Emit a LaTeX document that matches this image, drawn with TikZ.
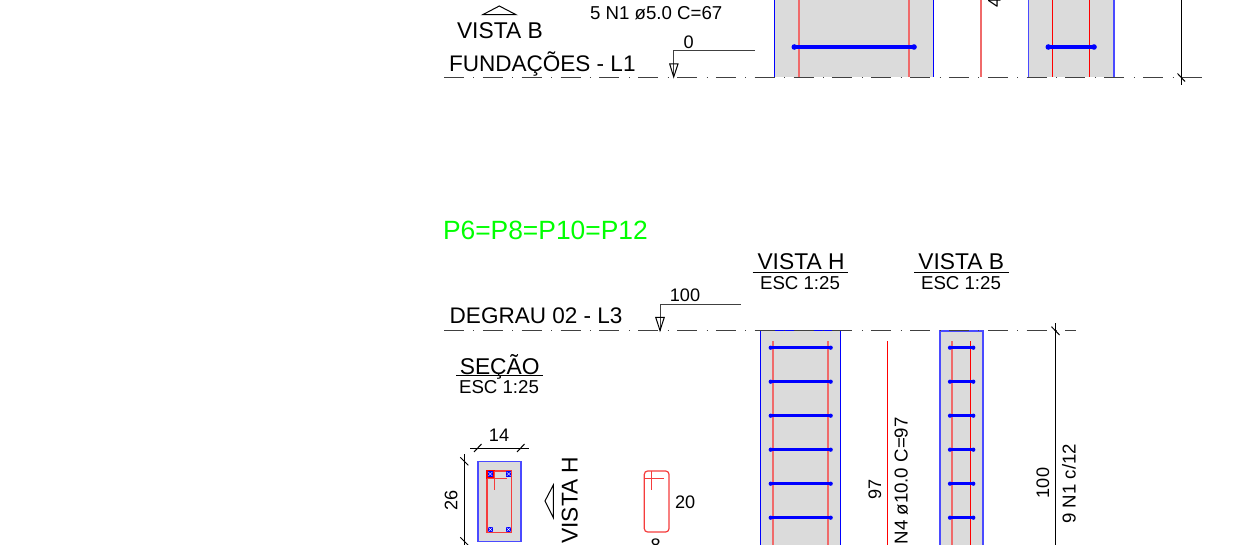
\documentclass[tikz,border=0pt]{standalone}
\usepackage{fontspec}
\setmainfont{Liberation Sans}
\definecolor{cgray}{HTML}{DBDBDB}
\definecolor{cblue}{HTML}{0000FF}
\definecolor{cpaleblue}{HTML}{4A4AFF}
\definecolor{cred}{HTML}{FF0000}
\definecolor{cpalered}{HTML}{F06A6A}
\definecolor{csect}{HTML}{F53C3C}
\definecolor{cgreen}{HTML}{00FF00}
\tikzset{
  txt/.style={inner sep=0pt,outer sep=0pt,text=black},
  big/.style={txt,font=\fontsize{17.1}{20}\selectfont},
  bigtight/.style={txt,font=\fontsize{16.9}{20}\selectfont},
  mid/.style={txt,font=\fontsize{13.6}{16}\selectfont},
  note/.style={txt,font=\fontsize{14}{16}\selectfont},
  ink/.style={draw=black,line width=.75pt},
  level/.style={draw=black!75,line width=.7pt},
  axisline/.style={draw=black!75,line width=.85pt,dash pattern=on 15pt off 7.1pt on .75pt off 6.28pt},
  colwall/.style={draw=cblue,line width=1.05pt},
  colpale/.style={draw=cpaleblue,line width=1.2pt},
  rebar/.style={draw=cpalered,line width=1.25pt},
  rebarthin/.style={draw=cred,line width=.95pt},
  tie/.style={draw=cblue,line width=2.4pt},
  tielow/.style={draw=cblue,line width=2pt},
  tiedot/.style={fill=cblue,draw=none},
  stirrup/.style={draw=csect,line width=.9pt}
}
\begin{document}
\begin{tikzpicture}[x=.75pt,y=-.75pt]
\useasboundingbox (0,0) rectangle (1252,545);
\fill[white] (0,0) rectangle (1252,545);
\begin{scope}
\clip (0,0) rectangle (1252,545);
% ---------- upper part
\fill[cgray] (774.3,-5) rectangle (933.7,77.5);
\draw[colwall] (774.3,-5) -- (774.3,77.5);
\draw[colwall] (933.7,-5) -- (933.7,77.5);
\fill[cgray] (1028.3,-5) rectangle (1114,77.5);
\draw[colpale] (1028.3,-5) -- (1028.3,77.5);
\draw[colpale] (1114,-5) -- (1114,77.5);
\draw[rebar] (799,-5) -- (799,77.5);
\draw[rebar] (909.3,-5) -- (909.3,77.5);
\draw[rebar] (981,-5) -- (981,77.5);
\draw[rebarthin] (1052.7,-5) -- (1052.7,77.5);
\draw[rebarthin] (1089.3,-5) -- (1089.3,77.5);
\foreach \xa/\xb in {794.3/914,1048.3/1094}{
  \draw[tie] (\xa,47) -- (\xb,47);
  \fill[tiedot] (\xa,47) circle[radius=2.8] (\xb,47) circle[radius=2.8];
}
\draw[axisline] (444,77.5) -- (1202,77.5);
\draw[ink] (1181.3,-5) -- (1181.3,85);
\draw[ink] (1177.5,73.5) -- (1185,81.5);
\draw[ink,line join=miter] (482.7,14.7) -- (499.3,6) -- (516,14.7) -- cycle;
\node[big,anchor=base west] (vb1) at (457,38.7) {VISTA B};
\node[note,anchor=base west] (n1) at (590,20) {5 N1 ø5.0 C=67};
\node[bigtight,anchor=base west] (fund) at (449,71.7) {FUNDAÇÕES - L1};
\node[mid,anchor=base] (lv0) at (688.7,48.3) {0};
\draw[level] (755,50.7) -- (673.7,50.7) -- (673.7,77.5);
\draw[ink] (669.7,64) -- (678,64) -- (673.7,77) -- cycle;
\node[mid,rotate=90,anchor=base west] (four) at (1000.5,7.5) {4};
% ---------- lower title
\node[txt,anchor=base west,text=cgreen,font=\fontsize{19.8}{24}\selectfont] (title) at (443,239.3) {P6=P8=P10=P12};
\node[big,anchor=base] (vh) at (801,269.3) {VISTA H};
\draw[ink] (752.7,272.3) -- (848.3,272.3);
\node[note,anchor=base] (eh) at (800,289.3) {ESC 1:25};
\node[big,anchor=base] (vb2) at (961.3,269.3) {VISTA B};
\draw[ink] (914,272.3) -- (1008.7,272.3);
\node[note,anchor=base] (eb) at (961,289.3) {ESC 1:25};
\node[bigtight,anchor=base west] (deg) at (449.7,323.3) {DEGRAU 02 - L3};
\node[mid,anchor=base] (lv100) at (685,301.3) {100};
\draw[level] (740.7,304.4) -- (660,304.4) -- (660,330.7);
\draw[ink] (655.7,317.3) -- (664.3,317.3) -- (660,330.5) -- cycle;
\node[big,anchor=base] (sec) at (499.7,374) {SEÇÃO};
\draw[ink] (456,375.7) -- (543,375.7);
\node[note,anchor=base] (es) at (499,393.3) {ESC 1:25};
% ---------- lower columns
\fill[cgray] (760.3,330.7) rectangle (840.3,550);
\draw[colwall] (760.3,550) -- (760.3,330.7) -- (840.3,330.7) -- (840.3,550);
\fill[cgray] (940,330.7) rectangle (982.7,550);
\draw[colpale] (940,550) -- (940,330.7) -- (982.7,330.7) -- (982.7,550);
\draw[rebar] (773,341) -- (773,550);
\draw[rebar] (828,341) -- (828,550);
\draw[rebar] (952,341) -- (952,550);
\draw[rebarthin] (970.3,341) -- (970.3,550);
\draw[rebarthin] (887.3,341) -- (887.3,550);
\foreach \yy in {347.7,381.7,415.7,449.7,483.7,517.7}{
  \draw[tielow] (770.7,\yy) -- (830.7,\yy);
  \draw[tielow] (950,\yy) -- (973.3,\yy);
  \fill[tiedot] (770.7,\yy) circle[radius=2.1] (830.7,\yy) circle[radius=2.1]
                (950,\yy) circle[radius=2.1] (973.3,\yy) circle[radius=2.1];
}
\draw[axisline] (444,330.7) -- (1076,330.7);
\draw[ink] (1055.3,323) -- (1055.3,550);
\draw[ink] (1051.5,326.7) -- (1059.5,335);
\node[mid,rotate=90,anchor=base] (d97) at (881,489) {97};
\node[note,rotate=90,anchor=base east] (n4) at (907.7,417.3) {N4 ø10.0 C=97};
\node[mid,rotate=90,anchor=base] (d100) at (1049,483) {100};
\node[note,rotate=90,anchor=base east] (n9) at (1075.7,444) {9 N1 c/12};
% ---------- section
\draw[fill=cgray,draw=cpaleblue,line width=1.2pt] (477.7,461.3) rectangle (520.7,541.3);
\draw[stirrup] (487,471) rectangle (511.7,532.3);
\draw[stirrup,draw=cred,line width=1.4pt] (487,478.3) -- (487,471) -- (494.3,471) -- (494.3,478.3) -- cycle;
\draw[stirrup] (487,478.3) -- (506.7,478.3);
\draw[stirrup] (494.3,471) -- (494.3,490);
\foreach \px/\py in {490.3/474,508.7/474,490.3/529.5,508.7/529.5}{
  \fill[cblue] (\px-2.7,\py-2.7) rectangle (\px+2.7,\py+2.7);
  \draw[white,line width=.25pt] (\px-2,\py-2) -- (\px+2,\py+2) (\px-2,\py+2) -- (\px+2,\py-2);
}
\draw[ink] (470,448) -- (529,448);
\draw[ink] (474,452) -- (481.5,444);
\draw[ink] (517,452) -- (524.5,444);
\draw[ink] (464.3,454) -- (464.3,550);
\draw[ink] (460.3,457.3) -- (468.3,465.3);
\draw[ink] (460.3,537.3) -- (468.3,545.3);
\node[mid,anchor=base] (d14) at (499,441.7) {14};
\node[mid,rotate=90,anchor=base] (d26) at (457.3,500.7) {26};
\draw[ink] (553.3,485) -- (545,501) -- (553.3,517.7) -- cycle;
\node[big,rotate=90,anchor=base east] (vh2) at (577.7,456.7) {VISTA H};
% ---------- stirrup detail
\draw[stirrup,rounded corners=2.5pt] (644.3,471) rectangle (669,532);
\draw[stirrup] (644.3,478.3) -- (664,478.3);
\draw[stirrup] (651.7,471) -- (651.7,490);
\node[mid,anchor=base west] (d20) at (675,508.3) {20};
\node[mid,anchor=base] (d8) at (655.7,551) {8};
\end{scope}
\end{tikzpicture}
\end{document}
